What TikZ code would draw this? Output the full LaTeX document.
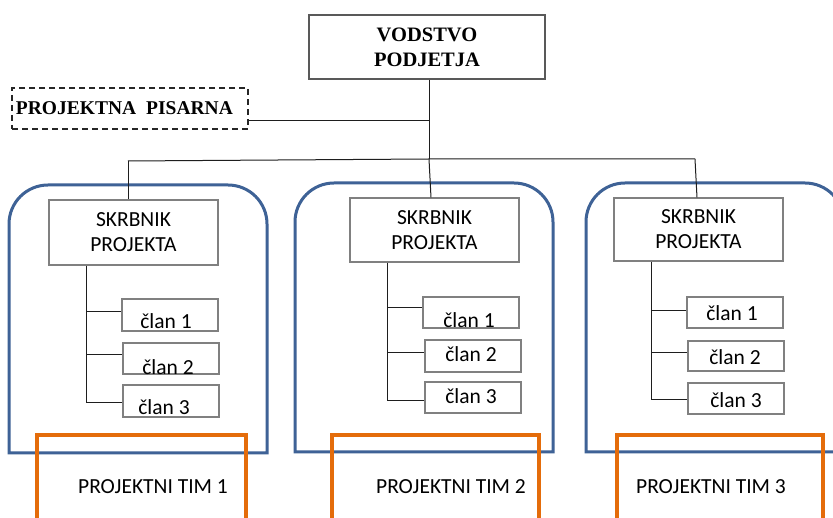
\documentclass[tikz,border=0pt]{standalone}
\usepackage{fontspec}
\setmainfont{Carlito}
\newfontfamily\headfont{Liberation Serif}
\definecolor{frameblue}{RGB}{62,98,150}
\definecolor{timorange}{RGB}{228,108,10}
\definecolor{boxgray}{RGB}{128,128,128}
\definecolor{wirecol}{RGB}{30,30,30}
\begin{document}
\begin{tikzpicture}[x=1pt,y=-1pt,
  orgbox/.style={draw=boxgray, line width=1.1pt, inner sep=0pt, align=center,
    font=\fontsize{21.5}{25}\selectfont},
  headbox/.style={draw=black!65, line width=1.1pt, inner sep=0pt, align=center,
    font=\headfont\bfseries\fontsize{20.5}{25}\selectfont},
  officebox/.style={draw=black!85, line width=1.6pt, dash pattern=on 6pt off 4pt,
    inner sep=0pt, align=left, text width=228pt,
    font=\headfont\bfseries\fontsize{19.5}{23}\selectfont},
  memberbox/.style={draw=boxgray, line width=1.1pt, inner sep=0pt,
    minimum width=96pt, minimum height=32pt},
  memtext/.style={inner sep=0pt, font=\fontsize{21.5}{25}\selectfont},
  wire/.style={draw=wirecol, line width=1pt},
  teamframe/.style={draw=frameblue, line width=3pt},
  timframe/.style={draw=timorange, line width=4pt},
]
\useasboundingbox (0,0) rectangle (833,518);
\fill[white] (0,0) rectangle (833,518);
\clip (0,0) rectangle (833,518);

% team frames, rounded at the top only
\draw[teamframe] (9,453) -- (9,224) arc[start angle=180,end angle=270,radius=39]
  -- (228,185) arc[start angle=270,end angle=360,radius=39] -- (267,453) -- cycle;
\draw[teamframe] (295,452) -- (295,222) arc[start angle=180,end angle=270,radius=39]
  -- (514,183) arc[start angle=270,end angle=360,radius=39] -- (553,452) -- cycle;
\draw[teamframe] (586,452) -- (586,222) arc[start angle=180,end angle=270,radius=39]
  -- (805,183) arc[start angle=270,end angle=360,radius=39] -- (844,452) -- cycle;

% team labels
\node[timframe, minimum width=209pt, minimum height=125pt] (timframe1) at (141.5,497.5) {};
\node[timframe, minimum width=207pt, minimum height=125pt] (timframe2) at (435.5,497.5) {};
\node[timframe, minimum width=206pt, minimum height=125pt] (timframe3) at (720,497.5) {};
\node[memtext] (tim1) at (153,487) {PROJEKTNI TIM 1};
\node[memtext] (tim2) at (451,487) {PROJEKTNI TIM 2};
\node[memtext] (tim3) at (711,487) {PROJEKTNI TIM 3};

% management and project office
\node[headbox, minimum width=236pt, minimum height=64pt] (vod) at (427,47) {VODSTVO\\PODJETJA};
\node[officebox, minimum width=236pt, minimum height=41pt] (pis) at (130,108.5)
  {PROJEKTNA\hspace{10pt}PISARNA};

% project sponsors
\node[orgbox, minimum width=169pt, minimum height=65pt] (s1) at (133.5,232.5) {SKRBNIK\\PROJEKTA};
\node[orgbox, minimum width=169pt, minimum height=64pt] (s2) at (434.5,230) {SKRBNIK\\PROJEKTA};
\node[orgbox, minimum width=169pt, minimum height=63pt] (s3) at (698.5,229.5) {SKRBNIK\\PROJEKTA};

% team members
\node[memberbox] (m11) at (170,315) {};
\node[memberbox, minimum height=31pt] (m12) at (171,358.5) {};
\node[memberbox] (m13) at (171,401) {};
\node[memberbox, minimum height=31pt] (m21) at (471,312.5) {};
\node[memberbox] (m22) at (473,356) {};
\node[memberbox, minimum height=31pt] (m23) at (473,397.5) {};
\node[memberbox, minimum height=31pt] (m31) at (735,312.5) {};
\node[memberbox, minimum height=30pt] (m32) at (736,356) {};
\node[memberbox, minimum height=31pt] (m33) at (736,398.5) {};

\node[memtext] (t11) at (166,321) {član 1};
\node[memtext] (t12) at (168,367) {član 2};
\node[memtext] (t13) at (164,407) {član 3};
\node[memtext] (t21) at (469,320) {član 1};
\node[memtext] (t22) at (471,354) {član 2};
\node[memtext] (t23) at (471,396) {član 3};
\node[memtext] (t31) at (732,313) {član 1};
\node[memtext] (t32) at (735,357) {član 2};
\node[memtext] (t33) at (736,400) {član 3};

% top-level wiring
\coordinate (hub) at (429,159);
\coordinate (busL) at (128,161);
\coordinate (busR) at (695,159);
\coordinate (pj) at (429,121);
\draw[wire] (vod.south -| hub) -- (hub);
\draw[wire] (pis.east |- pj) -- (pj);
\draw[wire] (busL) -- (hub) -- (busR);
\draw[wire] (busL) -- (busL |- s1.north);
\draw[wire] (hub) -- ([xshift=2pt]hub |- s2.north);
\draw[wire] (busR) -- ([xshift=2pt]busR |- s3.north);

% sponsor-to-member wiring
\coordinate (j11) at (86,312);
\coordinate (j12) at (86,355);
\coordinate (j13) at (86,403);
\coordinate (j21) at (387,308);
\coordinate (j22) at (387,353);
\coordinate (j23) at (387,401);
\coordinate (j31) at (651,311);
\coordinate (j32) at (651,353);
\coordinate (j33) at (651,400);
\draw[wire] (s1.south -| j11) -- (j13);
\draw[wire] (s2.south -| j21) -- (j23);
\draw[wire] (s3.south -| j31) -- (j33);
\foreach \t in {1,2,3}{
  \foreach \m in {1,2,3}{
    \draw[wire] (j\t\m) -- (j\t\m -| m\t\m.west);
  }
}
\end{tikzpicture}
\end{document}
